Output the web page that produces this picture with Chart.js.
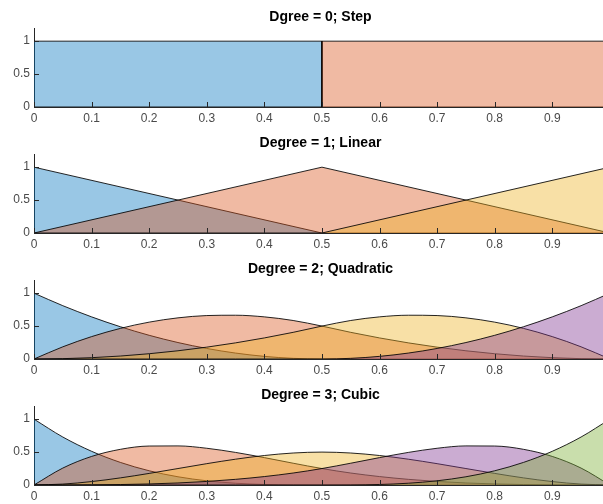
<!DOCTYPE html>
<html>
<head>
<meta charset="utf-8">
<script src="https://cdn.jsdelivr.net/npm/chart.js@4"></script>
<style>
  body { margin: 0; background: #fff; overflow: hidden; }
  .plot { position: absolute; left: 0; width: 607px; height: 126px; }
</style>
</head>
<body>
<div class="plot" style="top:0px"><canvas id="c0" width="607" height="126"></canvas></div>
<div class="plot" style="top:126px"><canvas id="c1" width="607" height="126"></canvas></div>
<div class="plot" style="top:252px"><canvas id="c2" width="607" height="126"></canvas></div>
<div class="plot" style="top:378px"><canvas id="c3" width="607" height="126"></canvas></div>
<script>
// subplot titles
const titles = ['Dgree = 0; Step', 'Degree = 1; Linear', 'Degree = 2; Quadratic', 'Degree = 3; Cubic'];

// degree 0
const xStep = [0, 0.5, 0.5, 1];
const step1 = [1, 1, 0, 0];
const step2 = [0, 0, 1, 1];

// degree 1
const xLinear = [0, 0.5, 1];
const linear1 = [1, 0, 0];
const linear2 = [0, 1, 0];
const linear3 = [0, 0, 1];

// degree 2 and 3, read every 0.05
const xCurve = [0, 0.05, 0.1, 0.15, 0.2, 0.25, 0.3, 0.35, 0.4, 0.45, 0.5, 0.55, 0.6, 0.65, 0.7, 0.75, 0.8, 0.85, 0.9, 0.95, 1];
const quad1 = [1, 0.81, 0.64, 0.49, 0.36, 0.25, 0.16, 0.09, 0.04, 0.01, 0, 0, 0, 0, 0, 0, 0, 0, 0, 0, 0];
const quad2 = [0, 0.185, 0.34, 0.465, 0.56, 0.625, 0.66, 0.665, 0.64, 0.585, 0.5, 0.405, 0.32, 0.245, 0.18, 0.125, 0.08, 0.045, 0.02, 0.005, 0];
const quad3 = [0, 0.005, 0.02, 0.045, 0.08, 0.125, 0.18, 0.245, 0.32, 0.405, 0.5, 0.585, 0.64, 0.665, 0.66, 0.625, 0.56, 0.465, 0.34, 0.185, 0];
const quad4 = [0, 0, 0, 0, 0, 0, 0, 0, 0, 0, 0, 0.01, 0.04, 0.09, 0.16, 0.25, 0.36, 0.49, 0.64, 0.81, 1];
const cubic1 = [1, 0.729, 0.512, 0.343, 0.216, 0.125, 0.064, 0.027, 0.008, 0.001, 0, 0, 0, 0, 0, 0, 0, 0, 0, 0, 0];
const cubic2 = [0, 0.257, 0.434, 0.542, 0.592, 0.594, 0.558, 0.495, 0.416, 0.331, 0.25, 0.182, 0.128, 0.086, 0.054, 0.031, 0.016, 0.007, 0.002, 0, 0];
const cubic3 = [0, 0.014, 0.052, 0.108, 0.176, 0.25, 0.324, 0.392, 0.448, 0.486, 0.5, 0.486, 0.448, 0.392, 0.324, 0.25, 0.176, 0.108, 0.052, 0.014, 0];
const cubic4 = [0, 0, 0.002, 0.007, 0.016, 0.031, 0.054, 0.086, 0.128, 0.182, 0.25, 0.331, 0.416, 0.495, 0.558, 0.594, 0.592, 0.542, 0.434, 0.257, 0];
const cubic5 = [0, 0, 0, 0, 0, 0, 0, 0, 0, 0, 0, 0.001, 0.008, 0.027, 0.064, 0.125, 0.216, 0.343, 0.512, 0.729, 1];

const yTicks = [0, 0.5, 1];

// matlab default colors, face alpha 0.4
const fills = [
    'rgba(0, 114, 189, 0.4)',
    'rgba(217, 83, 25, 0.4)',
    'rgba(237, 177, 32, 0.4)',
    'rgba(126, 47, 142, 0.4)',
    'rgba(119, 172, 48, 0.4)'
];

Chart.defaults.font.family = '"Liberation Sans", Arial, sans-serif';

// inward tick marks like matlab
const innerTicks = {
    id: 'innerTicks',
    afterDatasetsDraw(chart) {
        const ctx = chart.ctx;
        const x = chart.scales.x;
        const y = chart.scales.y;
        ctx.save();
        ctx.strokeStyle = '#262626';
        ctx.lineWidth = 1;
        ctx.beginPath();
        x.ticks.forEach(t => {
            const px = Math.round(x.getPixelForValue(t.value)) + 0.5;
            ctx.moveTo(px, y.bottom);
            ctx.lineTo(px, y.bottom - 5);
        });
        y.ticks.forEach(t => {
            const py = Math.round(y.getPixelForValue(t.value)) + 0.5;
            ctx.moveTo(x.left, py);
            ctx.lineTo(x.left + 5, py);
        });
        ctx.stroke();
        ctx.restore();
    }
};

const makeChart = (id, title, xs, series, smooth) => {
    const ctx = document.getElementById(id).getContext('2d');
    return new Chart(ctx, {
        type: 'line',
        data: {
            datasets: series.map((vals, i) => ({
                data: vals.map((v, j) => ({ x: xs[j], y: v })),
                backgroundColor: fills[i],
                borderColor: 'rgba(0, 0, 0, 0.85)',
                borderWidth: 1,
                pointRadius: 0,
                fill: 'origin',
                cubicInterpolationMode: smooth ? 'monotone' : 'default',
                tension: 0,
                order: series.length - i
            }))
        },
        options: {
            responsive: false,
            animation: false,
            devicePixelRatio: 1,
            layout: { padding: 0 },
            plugins: {
                legend: { display: false },
                tooltip: { enabled: false },
                title: {
                    display: true,
                    text: title,
                    fullSize: false,
                    color: '#000',
                    font: { size: 14, weight: 'bold' },
                    padding: { top: 9, bottom: 2.2 }
                }
            },
            scales: {
                x: {
                    type: 'linear',
                    min: 0,
                    max: 0.995,
                    grid: { display: false, drawTicks: false },
                    border: { display: true, color: '#262626', width: 1 },
                    ticks: {
                        stepSize: 0.1,
                        includeBounds: false,
                        maxRotation: 0,
                        padding: 4,
                        color: '#4a4a4a',
                        font: { size: 12 }
                    },
                    afterFit: scale => { scale.height = 19; }
                },
                y: {
                    min: 0,
                    max: 1.2,
                    grid: { display: false, drawTicks: false },
                    border: { display: true, color: '#262626', width: 1 },
                    afterBuildTicks: scale => { scale.ticks = yTicks.map(v => ({ value: v })); },
                    ticks: {
                        padding: 4,
                        color: '#4a4a4a',
                        font: { size: 12 },
                        callback: v => String(v)
                    },
                    afterFit: scale => { scale.width = 34; }
                }
            }
        },
        plugins: [innerTicks]
    });
};

makeChart('c0', titles[0], xStep, [step1, step2], false);
makeChart('c1', titles[1], xLinear, [linear1, linear2, linear3], false);
makeChart('c2', titles[2], xCurve, [quad1, quad2, quad3, quad4], true);
makeChart('c3', titles[3], xCurve, [cubic1, cubic2, cubic3, cubic4, cubic5], true);
</script>
</body>
</html>
